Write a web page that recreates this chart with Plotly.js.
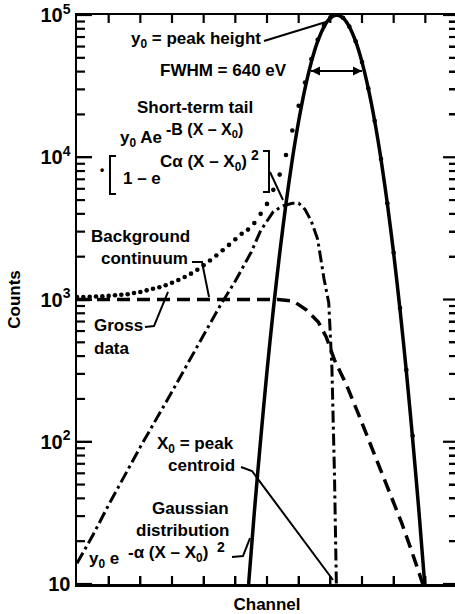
<!DOCTYPE html>
<html>
<head>
<meta charset="utf-8">
<script src="https://cdn.plot.ly/plotly-3.0.1.min.js"></script>
<style>
html,body{margin:0;padding:0;background:#fff;overflow:hidden;}
#chart{width:457px;height:614px;}
</style>
</head>
<body>
<div id="chart"></div>
<script>
// ---- data (channel units: 10 per top/bottom tick) ----
var gaussCh     = [54.2, 56, 58, 60, 62, 64, 66, 68, 70, 72, 74, 76, 78, 80, 82, 84, 86, 88, 90, 92, 94, 96, 98, 100, 102, 104, 106, 108, 109.8];
var gaussCounts = [10, 32, 104, 313, 851, 2105, 4730, 9680, 17980, 30370, 46650, 65150, 82650, 95350, 100000, 95350, 82650, 65150, 46650, 30370, 17980, 9680, 4730, 2105, 851, 313, 104, 32, 10];

var tailCh      = [0, 5, 10, 20, 30, 40, 45, 50, 55, 58, 62, 65, 68, 70, 72, 74, 76, 78, 79.5, 80.5, 81.3, 81.9];
var tailCounts  = [14, 22, 36, 92, 225, 560, 890, 1350, 2150, 3050, 4150, 4550, 4750, 4750, 4300, 3550, 2650, 1400, 950, 330, 60, 10];

var bgCh        = [0, 63.5, 68.3, 72.4, 76.2, 78.7, 81.3, 85.1, 88.6, 92.1, 95.6, 99.0, 102.5, 105.7, 108.9, 109.2];
var bgCounts    = [1000, 1000, 975, 845, 695, 545, 376, 251, 162, 103, 65, 42, 27, 17, 10.7, 10];

var grossCh     = [0, 2, 4, 6, 8, 10, 12, 14, 16, 18, 20, 22, 24, 26, 28, 30, 32, 34, 36, 38, 40, 42, 44, 46, 48, 50, 52, 54, 56, 58, 60, 62, 64, 66, 68, 70, 72, 74, 76, 78, 80, 82, 84, 86, 88, 90, 92, 94, 96, 98, 100, 102, 104, 106];
var grossCounts = [1040, 1040, 1045, 1050, 1055, 1060, 1070, 1080, 1090, 1110, 1130, 1160, 1190, 1220, 1260, 1310, 1370, 1440, 1520, 1620, 1740, 1880, 2040, 2220, 2420, 2650, 2900, 3100, 3450, 4000, 4700, 5900, 7550, 10380, 15430, 23000, 33500, 49000, 67000, 84000, 96000, 100500, 95700, 83000, 65300, 46750, 30450, 18050, 9720, 4750, 2130, 870, 320, 110];

var yTickVals  = [10, 100, 1000, 10000, 100000];
var yTickText  = ['<b>10</b>', '<b>10<sup>2</sup></b>', '<b>10<sup>3</sup></b>', '<b>10<sup>4</sup></b>', '<b>10<sup>5</sup></b>'];
var xTickVals  = [10, 20, 30, 40, 50, 60, 70, 80, 90, 100, 110];

// ---- layout helpers (pixel -> paper) ----
var L = 77, R = 457, T = 15, B = 584;
var XMAX = 120, YLOG0 = 1, YLOG1 = 5;
function X(px){ return (px - L) / (R - L); }
function Y(py){ return (B - py) / (B - T); }

var minorVals = [];
for (var e = 1; e < 5; e++) { for (var m = 2; m <= 9; m++) { minorVals.push(m * Math.pow(10, e)); } }

var FONT = 'Liberation Sans, Arial, Helvetica, sans-serif';

// inside tick marks built from the tick value arrays (lengths in pixels)
var pxPerCh = (R - L) / XMAX, pxPerDec = (B - T) / (YLOG1 - YLOG0);
var tk = {x: [], y: []};
function seg(x0, y0, x1, y1){ tk.x.push(x0, x1, null); tk.y.push(y0, y1, null); }
xTickVals.forEach(function(v){
  seg(v, Math.pow(10, YLOG0), v, Math.pow(10, YLOG0 + 8 / pxPerDec));
  seg(v, Math.pow(10, YLOG1), v, Math.pow(10, YLOG1 - 8 / pxPerDec));
});
yTickVals.forEach(function(v){
  seg(0, v, 15 / pxPerCh, v);
  seg(XMAX, v, XMAX - 14 / pxPerCh, v);
});
minorVals.forEach(function(v){
  seg(0, v, 8 / pxPerCh, v);
  seg(XMAX, v, XMAX - 8 / pxPerCh, v);
});

var traces = [
  {x: bgCh, y: bgCounts, mode: 'lines', line: {color: '#000', width: 3.5, dash: '13px,7px'}, hoverinfo: 'skip'},
  {x: tailCh, y: tailCounts, mode: 'lines', line: {color: '#000', width: 3, dash: '12px,4px,3px,4px'}, hoverinfo: 'skip'},
  {x: gaussCh, y: gaussCounts, mode: 'lines', line: {color: '#000', width: 3.5, shape: 'spline', smoothing: 0.8}, hoverinfo: 'skip'},
  {x: grossCh, y: grossCounts, mode: 'markers', marker: {color: '#000', size: 4.6}, hoverinfo: 'skip'},
  // tick marks, drawn last
  {x: tk.x, y: tk.y, mode: 'lines', line: {color: '#000', width: 2.2, simplify: false}, connectgaps: false, hoverinfo: 'skip'},
  // carrier for the right-hand minor tick axis
  {x: [0], y: [10], yaxis: 'y2', mode: 'markers', marker: {opacity: 0}, hoverinfo: 'skip'}
];

function txt(t, px, py, anchor, size){
  return {text: '<b>' + t + '</b>', x: X(px), y: Y(py), xref: 'paper', yref: 'paper',
          xanchor: anchor || 'center', yanchor: 'middle', showarrow: false,
          font: {family: FONT, size: size || 17, color: '#000'}};
}
function arrow(hx, hy, dx){
  return {text: ' ', x: X(hx), y: Y(hy), xref: 'paper', yref: 'paper', ax: dx, ay: 0,
          showarrow: true, arrowhead: 2, arrowsize: 0.9, arrowwidth: 2, arrowcolor: '#000'};
}

var annotations = [
  txt('y<sub>0</sub> = peak height', 263, 40, 'right'),
  txt('FWHM = 640 eV', 289, 71, 'right'),
  txt('Short-term tail', 195, 107),
  txt('y<sub>0</sub> Ae', 118, 139, 'left'),
  txt('-B (X \u2013 X<sub>0</sub>)', 164, 130, 'left', 16),
  txt('\u2022', 102, 170, 'center', 12),
  txt('1 \u2013 e', 121, 178, 'left'),
  txt('C\u03b1 (X \u2013 X<sub>0</sub>)', 158, 163, 'left', 17),
  txt('2', 249, 155, 'left', 14),
  txt('Background', 140, 237),
  txt('continuum', 144, 258),
  txt('Gross', 92, 326, 'left'),
  txt('data', 92, 348, 'left'),
  txt('X<sub>0</sub> = peak', 236, 445, 'right'),
  txt('centroid', 237, 465, 'right'),
  txt('Gaussian', 231, 508, 'right'),
  txt('distribution', 231, 530, 'right'),
  txt('y<sub>0</sub> e', 87, 560, 'left'),
  txt('-\u03b1 (X \u2013 X<sub>0</sub>)', 126, 554, 'left', 17),
  txt('2', 215, 547, 'left', 14),
  arrow(311, 71, 26),
  arrow(362, 71, -26)
];

function path(pts){
  var s = '';
  for (var i = 0; i < pts.length; i++) { s += (i ? ' L ' : 'M ') + X(pts[i][0]).toFixed(4) + ' ' + Y(pts[i][1]).toFixed(4); }
  return {type: 'path', xref: 'paper', yref: 'paper', path: s, line: {color: '#000', width: 2}};
}

var shapes = [
  path([[264, 41], [326, 22]]),
  path([[311, 71], [362, 71]]),
  path([[116, 156], [110, 156], [110, 194], [116, 194]]),
  path([[263, 151], [269, 151], [269, 192], [263, 192]]),
  path([[270, 172], [283, 200]]),
  path([[192, 262], [202, 262], [209, 297]]),
  path([[145, 327], [154, 326], [168, 292]]),
  path([[241, 467], [252, 471], [333, 580]]),
  path([[232, 557], [243, 556], [250, 538]])
];

var layout = {
  width: 457, height: 614,
  margin: {l: L, r: 0, t: T, b: 614 - B},
  paper_bgcolor: '#fff', plot_bgcolor: '#fff',
  showlegend: false,
  font: {family: FONT, color: '#000', size: 17},
  xaxis: {
    range: [0, XMAX], showgrid: false, zeroline: false,
    showline: true, linewidth: 2.5, linecolor: '#000', mirror: true,
    tickmode: 'array', tickvals: xTickVals, ticks: 'inside', ticklen: 8, tickwidth: 2, tickcolor: '#000',
    showticklabels: false,
    title: {text: '<b>Channel</b>', font: {family: FONT, size: 17, color: '#000'}, standoff: 14}
  },
  yaxis: {
    type: 'log', range: [YLOG0, YLOG1], showgrid: false, zeroline: false,
    showline: true, linewidth: 2.5, linecolor: '#000', mirror: true,
    tickmode: 'array', tickvals: yTickVals, ticktext: yTickText,
    ticks: 'inside', ticklen: 15, tickwidth: 2, tickcolor: '#000',
    tickfont: {family: FONT, size: 20, color: '#000'},
    title: {text: '<b>Counts</b>', font: {family: FONT, size: 17, color: '#000'}, standoff: 16}
  },
  yaxis2: {
    overlaying: 'y', side: 'right', type: 'log', range: [YLOG0, YLOG1],
    showgrid: false, zeroline: false, showline: false,
    tickmode: 'array', tickvals: minorVals, ticks: 'inside', ticklen: 8, tickwidth: 2, tickcolor: '#000',
    showticklabels: false
  },
  annotations: annotations,
  shapes: shapes
};

Plotly.newPlot('chart', traces, layout, {staticPlot: true, displayModeBar: false});
</script>
</body>
</html>
